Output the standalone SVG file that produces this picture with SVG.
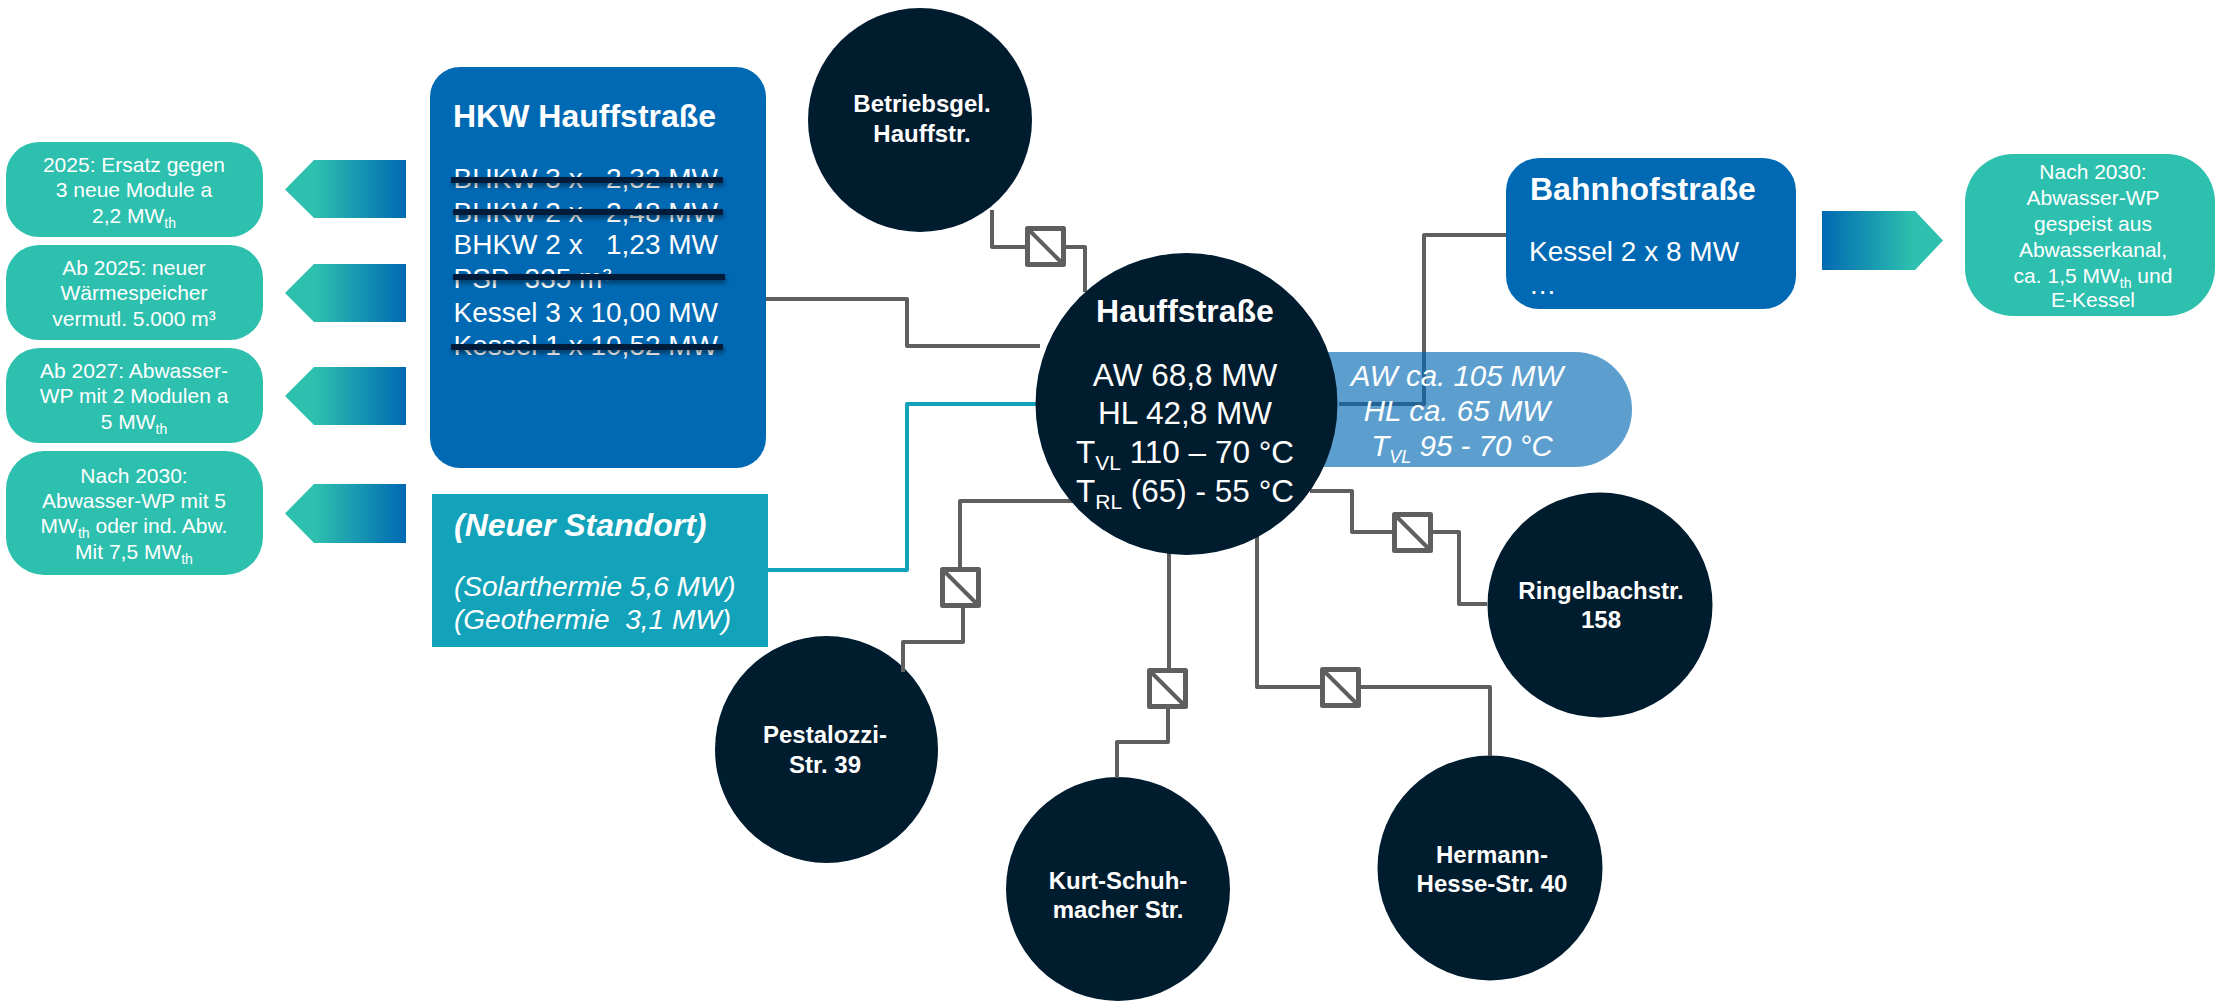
<svg xmlns="http://www.w3.org/2000/svg" width="2215" height="1001" viewBox="0 0 2215 1001">
<style>
text{font-family:"Liberation Sans",Arial,sans-serif;fill:#fff}
.c{text-anchor:middle}
.note{font-size:21px}
.sub{font-size:14px}
.circ{fill:#001c2f}
.lbl{font-size:24px;font-weight:700}
.h{font-size:32px;font-weight:700}
.b{font-size:28px}
.ctr{font-size:31.5px}
.pil{font-size:29.5px;font-style:italic}
.note-box{fill:#2dc0ae}
.blue{fill:#0069b4}
.wire{fill:none;stroke:#5f5f5f;stroke-width:4;stroke-linejoin:round}
.strike{stroke:#001c3a;stroke-width:6;filter:url(#sh)}
</style>
<defs>
<linearGradient id="gl" x1="0" y1="0" x2="1" y2="0"><stop offset=".25" stop-color="#2dc0ae"/><stop offset="1" stop-color="#0069b4"/></linearGradient>
<linearGradient id="gr" x1="0" y1="0" x2="1" y2="0"><stop offset="0" stop-color="#0069b4"/><stop offset=".75" stop-color="#2dc0ae"/></linearGradient>
<filter id="sh" filterUnits="userSpaceOnUse" x="400" y="100" width="400" height="300"><feDropShadow dx="1" dy="3" stdDeviation="2.5" flood-color="#000" flood-opacity=".45"/></filter>
<g id="hx"><rect x="2.5" y="2.5" width="36" height="36" fill="#fff" stroke="#5f5f5f" stroke-width="5" stroke-linejoin="round"/><path d="M3 3L38 38" stroke="#5f5f5f" stroke-width="4" fill="none"/></g>
</defs>
<rect width="2215" height="1001" fill="#fff"/>

<g id="n-betrieb"><circle class="circ" cx="920" cy="120" r="112"/><text class="lbl c" x="922" y="112">Betriebsgel.</text><text class="lbl c" x="922" y="142">Hauffstr.</text></g>
<g id="n-pestalozzi"><ellipse class="circ" cx="826.5" cy="749.500" rx="111.5" ry="113.5"/><text class="lbl c" x="825" y="743">Pestalozzi-</text><text class="lbl c" x="825" y="773">Str. 39</text></g>
<g id="n-kurt"><circle class="circ" cx="1118" cy="889" r="112"/><text class="lbl c" x="1118" y="889">Kurt-Schuh-</text><text class="lbl c" x="1118" y="918">macher Str.</text></g>
<g id="n-hermann"><circle class="circ" cx="1490" cy="868" r="112.5"/><text class="lbl c" x="1492" y="863">Hermann-</text><text class="lbl c" x="1492" y="892">Hesse-Str. 40</text></g>
<g id="n-ringelbach"><circle class="circ" cx="1600" cy="605" r="112.5"/><text class="lbl c" x="1601" y="599">Ringelbachstr.</text><text class="lbl c" x="1601" y="628">158</text></g>

<g id="connectors">
<path class="wire" d="M766 299H907V346H1040"/>
<path class="wire" d="M768 570H907V404H1040" style="stroke:#12a2b9"/>
<path class="wire" d="M1506 235H1424V404H1339"/>
<path class="wire" d="M992 210V247H1026M1065 247H1085V292"/>
<path class="wire" d="M1310 491H1352V532H1393M1432 532H1459V604H1487"/>
<path class="wire" d="M1257 536V687H1321M1361 687H1490V756"/>
<path class="wire" d="M1169 553V669M1168 708V742H1117V778"/>
<path class="wire" d="M1078 501H960V568M963 608V642H903V672"/>
<use href="#hx" x="1025" y="226"/>
<use href="#hx" x="1392" y="512"/>
<use href="#hx" x="1320" y="667"/>
<use href="#hx" x="1147" y="668"/>
<use href="#hx" x="940" y="567"/>
</g>

<g id="n-pill">
<rect x="1200" y="352" width="432" height="115" rx="57" fill="#0069b4" fill-opacity=".64"/>
<text class="pil c" x="1457" y="386">AW ca. 105 MW</text>
<text class="pil c" x="1457" y="421">HL ca. 65 MW</text>
<text class="pil c" x="1462" y="456">T<tspan font-size="18" dy="7">VL</tspan><tspan dy="-7"> 95 - 70 °C</tspan></text>
</g>

<g id="n-hauff">
<circle class="circ" cx="1186.5" cy="404" r="151"/>
<text class="h c" x="1185" y="322">Hauffstraße</text>
<text class="ctr c" x="1185" y="386">AW 68,8 MW</text>
<text class="ctr c" x="1185" y="424">HL 42,8 MW</text>
<text class="ctr c" x="1185" y="463">T<tspan font-size="21" dy="7">VL</tspan><tspan dy="-7"> 110 – 70 °C</tspan></text>
<text class="ctr c" x="1185" y="502">T<tspan font-size="21" dy="7">RL</tspan><tspan dy="-7"> (65) - 55 °C</tspan></text>
</g>

<g id="n-hkw">
<rect class="blue" x="430" y="67" width="336" height="401" rx="30"/>
<text class="h" x="453" y="127">HKW Hauffstraße</text>
<g class="b">
<text x="453.5" y="188" xml:space="preserve">BHKW 3 x   2,32 MW</text>
<text x="453.5" y="222" xml:space="preserve">BHKW 2 x   2,48 MW</text>
<text x="453.5" y="254" xml:space="preserve">BHKW 2 x   1,23 MW</text>
<text x="453.5" y="288" xml:space="preserve">PSP  335 m³</text>
<text x="453.5" y="322" xml:space="preserve">Kessel 3 x 10,00 MW</text>
<text x="453.5" y="355" xml:space="preserve">Kessel 1 x 10,52 MW</text>
</g>
<path class="strike" d="M451 180H723"/>
<path class="strike" d="M453 212H723"/>
<path class="strike" d="M453 277H725"/>
<path class="strike" d="M451 347H723"/>
</g>

<g id="n-neu">
<rect x="432" y="494" width="336" height="153" fill="#12a2b9"/>
<text x="454" y="536" font-size="32" font-weight="700" font-style="italic">(Neuer Standort)</text>
<text x="454" y="596" font-size="28" font-style="italic">(Solarthermie 5,6 MW)</text>
<text x="454" y="629" font-size="28" font-style="italic" xml:space="preserve">(Geothermie  3,1 MW)</text>
</g>

<g id="n-bahnhof">
<rect class="blue" x="1506" y="158" width="290" height="151" rx="33"/>
<text class="h" x="1530" y="200">Bahnhofstraße</text>
<text class="b" x="1529" y="261">Kessel 2 x 8 MW</text>
<text class="b" x="1530" y="294" letter-spacing="1">...</text>
</g>

<g id="n-note1">
<rect class="note-box" x="6" y="142" width="257" height="95" rx="33"/>
<text class="note c" x="134" y="172">2025: Ersatz gegen</text>
<text class="note c" x="134" y="197">3 neue Module a</text>
<text class="note c" x="134" y="223">2,2 MW<tspan class="sub" dy="5">th</tspan></text>
</g>
<g id="n-note2">
<rect class="note-box" x="6" y="245" width="257" height="95" rx="33"/>
<text class="note c" x="134" y="275">Ab 2025: neuer</text>
<text class="note c" x="134" y="300">Wärmespeicher</text>
<text class="note c" x="134" y="326">vermutl. 5.000 m³</text>
</g>
<g id="n-note3">
<rect class="note-box" x="6" y="348" width="257" height="95" rx="33"/>
<text class="note c" x="134" y="378">Ab 2027: Abwasser-</text>
<text class="note c" x="134" y="403">WP mit 2 Modulen a</text>
<text class="note c" x="134" y="429">5 MW<tspan class="sub" dy="5">th</tspan></text>
</g>
<g id="n-note4">
<rect class="note-box" x="6" y="451" width="257" height="124" rx="38"/>
<text class="note c" x="134" y="483">Nach 2030:</text>
<text class="note c" x="134" y="508">Abwasser-WP mit 5</text>
<text class="note c" x="134" y="533">MW<tspan class="sub" dy="5">th</tspan><tspan dy="-5"> oder ind. Abw.</tspan></text>
<text class="note c" x="134" y="559">Mit 7,5 MW<tspan class="sub" dy="5">th</tspan></text>
</g>
<g id="n-note5">
<rect class="note-box" x="1965" y="154" width="250" height="162" rx="48"/>
<text class="note c" x="2093" y="179">Nach 2030:</text>
<text class="note c" x="2093" y="205">Abwasser-WP</text>
<text class="note c" x="2093" y="231">gespeist aus</text>
<text class="note c" x="2093" y="257">Abwasserkanal,</text>
<text class="note c" x="2093" y="283">ca. 1,5 MW<tspan class="sub" dy="5">th</tspan><tspan dy="-5"> und</tspan></text>
<text class="note c" x="2093" y="307">E-Kessel</text>
</g>

<g id="arrows">
<path fill="url(#gl)" d="M285 189.500L314 160H406V218H314Z"/>
<path fill="url(#gl)" d="M285 293L314 264H406V322H314Z"/>
<path fill="url(#gl)" d="M285 396L314 367H406V425H314Z"/>
<path fill="url(#gl)" d="M285 513.500L314 484H406V543H314Z"/>
<path fill="url(#gr)" d="M1822 211H1915L1943 240.500L1915 270H1822Z"/>
</g>
</svg>
